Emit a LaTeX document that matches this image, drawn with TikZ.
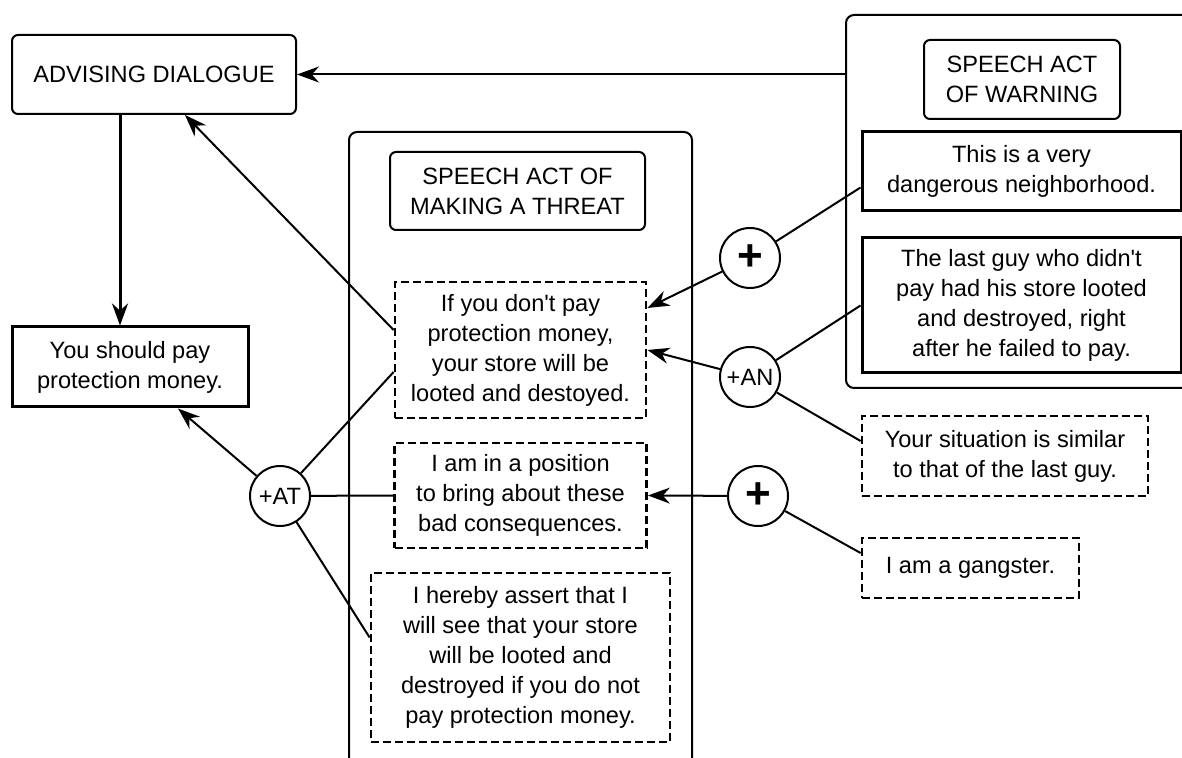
\documentclass[tikz,border=0pt]{standalone}
\usepackage{fontspec}
\setmainfont{Liberation Sans}[Ligatures=TeXOff]
\usepackage{tikz}
\usetikzlibrary{calc, positioning, arrows.meta}

\tikzset{
  txt/.style={align=center, inner sep=0pt, font=\fontsize{11.8}{15}\selectfont},
  rbox/.style={txt, draw, rounded corners=3pt, line width=1pt},
  sbox/.style={txt, draw, line width=1.5pt},
  dbox/.style={txt, draw, dash pattern=on 4pt off 2pt, line width=1.4pt},
  group/.style={draw, rounded corners=4pt, line width=1pt},
  joint/.style={txt, draw, circle, minimum size=30pt, line width=1pt},
  conn/.style={line width=1pt},
  arr/.style={conn, -{Stealth[length=11pt, width=8pt]}},
}
\newcommand{\bigplus}{{\fontsize{22}{22}\selectfont\bfseries +}}

\begin{document}
\begin{tikzpicture}[x=0.5pt, y=-0.5pt]
  \clip (0,0) rectangle (1182,758);

  % the two speech acts
  \draw [group] (349,132) rectangle (692,800);
  \node [group, minimum width=192pt, minimum height=186.5pt] (warn) at (1038,201.5) {};

  \node [rbox, minimum width=142pt, minimum height=39.5pt] (adv) at (154,74.5) {ADVISING DIALOGUE};
  \node [sbox, minimum width=118pt, minimum height=40pt] (should) at (130,367) {You should pay\\protection money.};

  \node [rbox, minimum width=127.5pt, minimum height=39pt] (threat) at (517.5,191) {SPEECH ACT OF\\MAKING A THREAT};
  \node [dbox, minimum width=125.5pt, minimum height=68pt] (cond) at (520.5,350) {If you don't pay\\protection money,\\your store will be\\looted and destoyed.};
  \node [dbox, minimum width=126pt, minimum height=52.5pt] (pos) at (520.5,495.5) {I am in a position\\to bring about these\\bad consequences.};
  \node [dbox, minimum width=149.5pt, minimum height=84.5pt] (assert) at (520.5,657.5) {I hereby assert that I\\will see that your store\\will be looted and\\destroyed if you do not\\pay protection money.};

  \node [rbox, minimum width=98pt, minimum height=39.5pt] (warntitle) at (1022,79.5) {SPEECH ACT\\OF WARNING};
  \node [sbox, minimum width=159.5pt, minimum height=39.5pt] (danger) at (1021.5,171.5) {This is a very\\dangerous neighborhood.};
  \node [sbox, minimum width=159.5pt, minimum height=67.5pt] (lastguy) at (1021.5,305.5) {The last guy who didn't\\pay had his store looted\\and destroyed, right\\after he failed to pay.};
  \node [dbox, minimum width=143pt, minimum height=40pt] (similar) at (1005,456) {Your situation is similar\\to that of the last guy.};
  \node [dbox, minimum width=108.5pt, minimum height=30pt] (gangster) at (970.5,568) {I am a gangster.};

  \node [joint] (plusA) at (750,258) {\bigplus};
  \node [joint] (an) at (750,377) {+AN};
  \node [joint] (plusB) at (758,496) {\bigplus};
  \node [joint] (at) at (280,496) {+AT};

  % connectors
  \coordinate (down) at (120,0);
  \draw [arr, line width=1.5pt] (adv.south -| down) -- (should.north -| down);
  \draw [arr] (warn.west |- adv.east) -- (adv.east);
  \draw [arr] ([yshift=10pt]cond.west) -- ([xshift=15.5pt]adv.south);

  \draw [arr] (at) -- ([xshift=24pt]should.south);
  \draw [conn] (at) -- ([yshift=-11pt]cond.west);
  \draw [conn] (at) -- (pos.west);
  \draw [conn] (at) -- ([yshift=10pt]assert.west);

  \draw [conn] (plusA) -- ([yshift=-8pt]danger.west);
  \draw [arr] (plusA) -- ([yshift=21pt]cond.east);
  \draw [conn] (an) -- (lastguy.west);
  \draw [arr] (an) -- (cond.east);
  \draw [conn] (an) -- ([yshift=7.5pt]similar.west);
  \draw [arr] (plusB) -- (pos.east);
  \draw [conn] (plusB) -- ([yshift=7.5pt]gangster.west);
\end{tikzpicture}
\end{document}
